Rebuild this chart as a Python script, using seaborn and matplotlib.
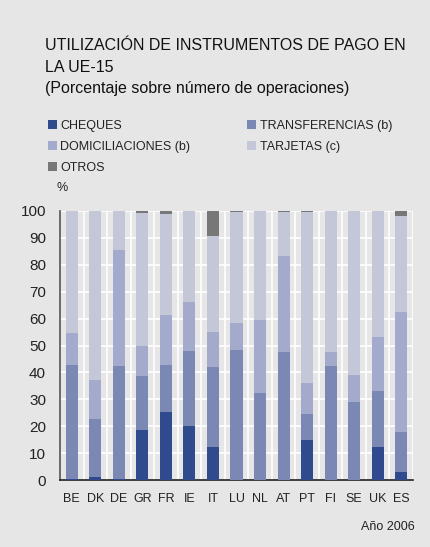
import matplotlib
matplotlib.use("Agg")
import matplotlib.pyplot as plt
import seaborn as sns
import numpy as np
import pandas as pd
from matplotlib.patches import Patch

countries = ["BE", "DK", "DE", "GR", "FR", "IE", "IT", "LU", "NL", "AT", "PT", "FI", "SE", "UK", "ES"]
cheques = [0.5, 1.2, 0.5, 18.6, 25.3, 20.1, 12.3, 0.0, 0.0, 0.0, 15.0, 0.0, 0.0, 12.4, 3.1]
transferencias = [42.4, 21.5, 41.9, 20.1, 17.5, 27.9, 29.7, 48.3, 32.5, 47.6, 9.7, 42.5, 29.1, 20.8, 14.9]
domiciliaciones = [11.9, 14.5, 43.1, 11.1, 18.5, 18.2, 13.0, 10.1, 27.1, 35.7, 11.5, 5.1, 10.1, 20.1, 44.6]
tarjetas = [45.2, 62.8, 14.5, 49.5, 37.6, 33.8, 35.7, 41.3, 40.4, 16.3, 63.4, 52.4, 60.8, 46.7, 35.7]
otros = [0.0, 0.0, 0.0, 0.7, 1.1, 0.0, 9.3, 0.3, 0.0, 0.4, 0.4, 0.0, 0.0, 0.0, 1.7]

series_names = ["CHEQUES", "TRANSFERENCIAS (b)", "DOMICILIACIONES (b)", "TARJETAS (c)", "OTROS"]
series_vals = [cheques, transferencias, domiciliaciones, tarjetas, otros]
colors = ["#2f4b8d", "#7b88b4", "#a4aacb", "#c4c7d7", "#777777"]
yticks = list(range(0, 101, 10))

BG = "#e6e6e6"
sns.set_theme(style="white")
plt.rcParams["font.family"] = ["Liberation Sans", "DejaVu Sans"]

fig = plt.figure(figsize=(4.30, 5.47), dpi=100, facecolor=BG)
ax = fig.add_axes([60/430, 1-480/547, 353/430, 269/547])
ax.set_facecolor(BG)

df = pd.DataFrame({"pais": countries})
cum = np.zeros(len(countries))
cums = []
for v in series_vals:
    cum = cum + np.array(v)
    cums.append(cum.copy())

# draw from top layer down so lower layers overlay
for name, c, col in reversed(list(zip(series_names, cums, colors))):
    d = df.copy()
    d["val"] = c
    sns.barplot(data=d, x="pais", y="val", color=col, width=0.51,
                saturation=1, ax=ax, zorder=3, linewidth=0)

ax.set_ylim(0, 100)
ax.set_xlim(-0.5, len(countries) - 0.5)
ax.set_yticks(yticks)
ax.set_yticklabels([str(t) for t in yticks], fontsize=11, color="#222222")
ax.tick_params(axis="x", labelsize=9, colors="#222222", length=0, pad=9)
ax.tick_params(axis="y", length=0, pad=10)
ax.set_xlabel("")
ax.set_ylabel("")
for t in yticks[1:]:
    ax.axhline(t, color="white", lw=1.2, zorder=1)
for b in np.arange(0.5, len(countries) - 0.5, 1.0):
    ax.axvline(b, color="white", lw=1.2, zorder=1)
ax.axvline(len(countries) - 0.5, color="white", lw=1.2, zorder=1)
for s in ["top", "right"]:
    ax.spines[s].set_visible(False)
ax.spines["left"].set_color("#555555")
ax.spines["left"].set_linewidth(1.2)
ax.spines["bottom"].set_color("#222222")
ax.spines["bottom"].set_linewidth(1.2)

fig.text(45/430, 1-45/547, "UTILIZACIÓN DE INSTRUMENTOS DE PAGO EN", fontsize=11.5,
         color="#111111", va="center", ha="left")
fig.text(45/430, 1-67/547, "LA UE-15", fontsize=11.5, color="#111111", va="center", ha="left")
fig.text(45/430, 1-89/547, "(Porcentaje sobre número de operaciones)", fontsize=11.5,
         color="#111111", va="center", ha="left")

h = [Patch(facecolor=c, edgecolor="none") for c in colors]
leg_kw = dict(loc="upper left", frameon=False, fontsize=9, handlelength=0.75,
              handleheight=0.75, handletextpad=0.25, labelspacing=0.72,
              borderpad=0, borderaxespad=0)
leg1 = fig.legend([h[0], h[2], h[4]], [series_names[0], series_names[2], series_names[4]],
                  bbox_to_anchor=(48/430, 1-120/547), **leg_kw)
for t in leg1.get_texts():
    t.set_color("#222222")
leg2 = fig.legend([h[1], h[3]], [series_names[1], series_names[3]],
                  bbox_to_anchor=(247/430, 1-120/547), **leg_kw)
for t in leg2.get_texts():
    t.set_color("#222222")

fig.text(57/430, 1-188/547, "%", fontsize=9, color="#222222", va="center", ha="left")
fig.text(415/430, 1-527/547, "Año 2006", fontsize=9, color="#222222", va="center", ha="right")

fig.savefig("out.png", dpi=100, facecolor=BG)
